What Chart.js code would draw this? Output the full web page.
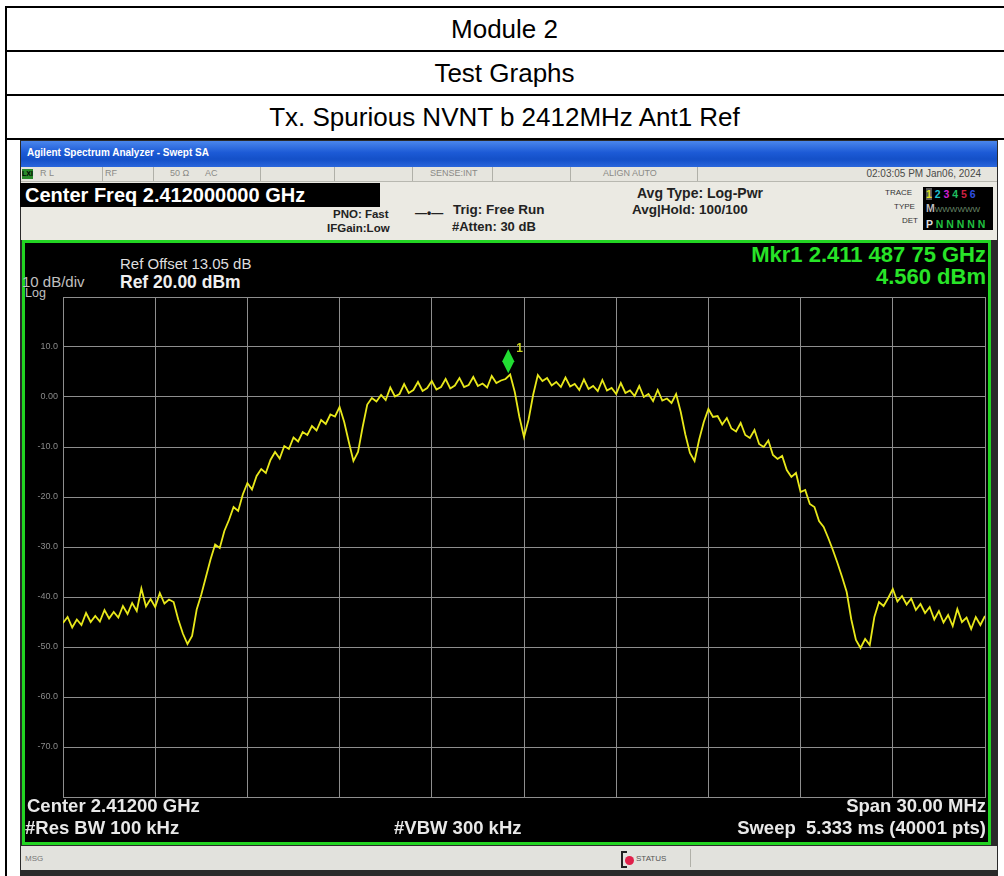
<!DOCTYPE html>
<html>
<head>
<meta charset="utf-8">
<script src="https://cdn.jsdelivr.net/npm/chart.js@4.4.1/dist/chart.umd.min.js"></script>
<style>
  html, body { margin: 0; padding: 0; background: #fff; }
  body { width: 1004px; height: 876px; position: relative; overflow: hidden; font-family: "Liberation Sans", Arial, sans-serif; }
  .abs { position: absolute; white-space: nowrap; }
  .row { position: absolute; left: 5px; width: 999px; height: 44px; border-top: 2px solid #000; box-sizing: border-box;
         font-size: 26px; color: #000; text-align: center; line-height: 42px; }
  #shot { position: absolute; left: 20px; top: 140px; width: 978px; height: 740px; background: #2a2a2a; }
  #titlebar { position: absolute; left: 21px; top: 141px; width: 976px; height: 26px;
              background: linear-gradient(#4a86ec, #1c5ad6 45%, #1450c8 70%, #2a66dc); }
  #titlebar span { position: absolute; left: 6px; top: 6px; color: #fff; font-size: 10px; font-weight: bold; }
  #status { position: absolute; left: 21px; top: 167px; width: 976px; height: 14px; background: #e6e5de;
            border-bottom: 1px solid #b8b8b0; font-size: 9px; color: #8a8a86; }
  .sep { position: absolute; top: 0; width: 1px; height: 14px; background: #b0b0a8; }
  #panel { position: absolute; left: 21px; top: 182px; width: 976px; height: 58px; background: #ebeae3; }
  .pt { position: absolute; white-space: nowrap; font-weight: bold; color: #222; }
  #screen { position: absolute; left: 22px; top: 240px; width: 963px; height: 599px; background: #000;
            border: 3px solid #22d422; }
  .st { position: absolute; white-space: nowrap; color: #e8e8e8; font-weight: bold; font-size: 18.5px; }
  #chartBox { position: absolute; left: 25px; top: 243px; width: 963px; height: 599px; }
  #msg { position: absolute; left: 21px; top: 846px; width: 976px; height: 24px; background: #e2e2dd; font-size: 8px; color: #777; }
</style>
</head>
<body>
<div class="row" style="top:6px;">Module 2</div>
<div class="row" style="top:50px;">Test Graphs</div>
<div class="row" style="top:94px;">Tx. Spurious NVNT b 2412MHz Ant1 Ref</div>
<div class="row" style="top:138px; height:2px;"></div>
<div class="abs" style="left:5px; top:6px; width:2px; height:870px; background:#000;"></div>

<div id="shot"></div>
<div id="titlebar"><span>Agilent Spectrum Analyzer - Swept SA</span></div>
<div id="status">
  <div class="abs" style="left:1px; top:2px; width:11px; height:10px; background:#2a8a2a; color:#000; font-size:7px; font-weight:bold; line-height:10px;">LXI</div>
  <div class="abs" style="left:19px; top:1px;">R L</div>
  <div class="sep" style="left:81px;"></div>
  <div class="abs" style="left:84px; top:1px;">RF</div>
  <div class="sep" style="left:132px;"></div>
  <div class="abs" style="left:149px; top:1px;">50 Ω</div>
  <div class="abs" style="left:184px; top:1px;">AC</div>
  <div class="sep" style="left:239px;"></div>
  <div class="sep" style="left:313px;"></div>
  <div class="sep" style="left:391px;"></div>
  <div class="abs" style="left:409px; top:1px;">SENSE:INT</div>
  <div class="sep" style="left:471px;"></div>
  <div class="sep" style="left:549px;"></div>
  <div class="abs" style="left:582px; top:1px;">ALIGN AUTO</div>
  <div class="sep" style="left:676px;"></div>
  <div class="abs" style="right:16px; top:1px; color:#4a4a48; font-size:10px;">02:03:05 PM Jan06, 2024</div>
</div>
<div id="panel">
  <div class="abs" style="left:-1px; top:1px; width:360px; height:24px; background:#000; color:#fff; font-size:20px; font-weight:bold; line-height:24px; padding-left:5px; box-sizing:border-box;">Center Freq 2.412000000 GHz</div>
  <div class="pt" style="left:312px; top:26px; font-size:11.5px;">PNO: Fast</div>
  <div class="pt" style="left:394px; top:24px; font-size:12px;">&#x2014;&#x2022;&#x2014;</div>
  <div class="pt" style="left:306px; top:40px; font-size:11.5px;">IFGain:Low</div>
  <div class="pt" style="left:432px; top:20px; font-size:13.5px;">Trig: Free Run</div>
  <div class="pt" style="left:431px; top:37px; font-size:13px;">#Atten: 30 dB</div>
  <div class="pt" style="left:616px; top:3px; font-size:14px;">Avg Type: Log-Pwr</div>
  <div class="pt" style="left:611px; top:20px; font-size:13.5px;">Avg|Hold: 100/100</div>
  <div class="abs" style="left:864px; top:6px; font-size:8px; color:#333;">TRACE</div>
  <div class="abs" style="left:873px; top:20px; font-size:8px; color:#333;">TYPE</div>
  <div class="abs" style="left:881px; top:34px; font-size:8px; color:#333;">DET</div>
  <div class="abs" style="left:902px; top:5px; width:70px; height:43px; background:#000; font-size:10.5px; font-weight:bold; line-height:14px; overflow:hidden;">
    <div style="padding-left:3px;"><span style="color:#e0e020; background:#555;">1</span>&nbsp;<span style="color:#20c0d0;">2</span>&nbsp;<span style="color:#d020d0;">3</span>&nbsp;<span style="color:#20c060;">4</span>&nbsp;<span style="color:#d02040;">5</span>&nbsp;<span style="color:#3050e0;">6</span></div>
    <div style="padding-left:3px; color:#bbb;">M<span style="color:#6a8a6a; font-size:8px; font-weight:normal;">WWWWWW</span></div>
    <div style="padding-left:3px; color:#ddd;">P <span style="color:#20c040;">N N N N N</span></div>
  </div>
</div>

<div id="screen"></div>
<div class="abs" style="left:120px; top:255px; font-size:15px; color:#dedede;">Ref Offset 13.05 dB</div>
<div class="abs" style="left:120px; top:272px; font-size:17.5px; font-weight:bold; color:#f0f0f0;">Ref 20.00 dBm</div>
<div class="abs" style="left:22px; top:273px; font-size:15px; color:#c0c0c0;">10 dB/div</div>
<div class="abs" style="left:25px; top:286px; font-size:12.5px; color:#c0c0c0;">Log</div>
<div class="abs" style="right:18px; top:242px; font-size:22px; font-weight:bold; color:#28e428;">Mkr1 2.411 487 75 GHz</div>
<div class="abs" style="right:18px; top:264px; font-size:22px; font-weight:bold; color:#28e428;">4.560 dBm</div>

<div id="chartBox"><canvas id="saChart"></canvas></div>

<div class="st" style="left:27px; top:795px;">Center 2.41200 GHz</div>
<div class="st" style="left:25px; top:817px;">#Res BW 100 kHz</div>
<div class="st" style="left:394px; top:817px;">#VBW 300 kHz</div>
<div class="st" style="right:18px; top:795px;">Span 30.00 MHz</div>
<div class="st" style="right:18px; top:817px;">Sweep&nbsp; 5.333 ms (40001 pts)</div>

<div id="msg">
  <div class="abs" style="left:4px; top:8px;">MSG</div>
  <div class="abs" style="left:600px; top:5px; width:4px; height:13px; border:2px solid #222; border-right:none;"></div>
  <div class="abs" style="left:604px; top:10px; width:9px; height:9px; border-radius:50%; background:#e0204a;"></div>
  <div class="abs" style="left:615px; top:8px; color:#555;">STATUS</div>
  <div class="sep" style="left:669px; top:3px; height:18px;"></div>
</div>

<script>
// sweep: offset from center frequency in MHz
const sweepStartMHz = -15;
const sweepStepMHz = 0.15;

// trace 1 levels in dBm
const traceLevels = [
  -45.2, -44.0, -46.1, -44.5, -45.6, -43.2, -45.0, -43.8, -44.9, -42.6,
  -44.3, -43.0, -44.1, -41.8, -43.4, -41.2, -42.8, -38.3, -41.9, -40.4,
  -42.0, -39.2, -41.3, -40.5, -41.0, -44.5, -47.3, -49.4, -47.8, -42.5,
  -39.5, -36.0, -32.5, -29.5, -30.2, -26.8, -24.6, -22.0, -22.8, -19.5,
  -17.2, -18.5, -15.8, -14.4, -15.2, -12.6, -11.0, -12.3, -9.8, -10.4,
  -8.1, -8.9, -7.0, -7.6, -5.8, -6.7, -4.6, -5.4, -3.5, -3.9,
  -2.0, -5.0, -9.0, -12.8, -11.0, -6.0, -1.5, -0.2, -0.9, 0.4,
  -0.6, 1.9, 0.1, 0.6, 2.6, 0.8, 1.4, 3.0, 1.2, 1.8,
  3.2, 1.5, 2.0, 3.6, 1.7, 2.3, 3.8, 2.0, 2.4, 4.0,
  2.2, 2.7, 1.9, 4.2, 2.8, 3.3, 3.6, 4.5, 1.0, -4.0,
  -8.0, -4.5, 0.5, 4.4, 3.2, 3.8, 2.3, 3.0, 2.0, 3.9,
  2.1, 2.6, 1.4, 3.5, 1.6, 2.2, 1.2, 3.4, 1.3, 1.8,
  0.6, 2.8, 0.8, 1.3, 0.2, 2.2, 0.0, 0.6, -0.8, 1.4,
  -0.7, -0.3, -1.2, 0.6, -3.0, -7.5, -11.2, -12.8, -8.5, -5.0,
  -2.4, -4.0, -3.8, -5.5, -4.2, -6.3, -6.9, -5.2, -7.6, -8.2,
  -6.6, -9.4, -10.0, -8.7, -11.6, -12.4, -11.8, -14.6, -16.0, -15.2,
  -19.0, -18.6, -21.4, -22.0, -24.8, -26.0, -28.2, -30.6, -33.2, -36.0,
  -39.0, -44.5, -48.6, -50.2, -48.4, -49.6, -44.0, -41.0, -41.8, -40.2,
  -38.4, -40.9, -39.8, -41.5, -40.3, -42.6, -41.4, -43.2, -42.0, -44.5,
  -42.8, -45.1, -43.6, -45.8, -42.4, -45.0, -44.1, -46.4, -44.0, -45.6,
  -43.8
];

// marker 1: 2.41148775 GHz -> offset in MHz
const markerFreq = -0.51225;
const markerLevel = 4.56;

// graticule labels
const yTickValues = [20, 10, 0, -10, -20, -30, -40, -50, -60, -70, -80];
const yTickLabels = ['', '10.0', '0.00', '-10.0', '-20.0', '-30.0', '-40.0', '-50.0', '-60.0', '-70.0', ''];

const tracePoints = traceLevels.map((v, i) => ({ x: sweepStartMHz + i * sweepStepMHz, y: v }));

// draws the green diamond for marker 1 above its point
const markerPlugin = {
    id: 'markerPlugin',
    afterDatasetsDraw(chart) {
        const ctx = chart.ctx;
        const px = chart.scales.x.getPixelForValue(markerFreq);
        const py = chart.scales.y.getPixelForValue(markerLevel);
        ctx.save();
        ctx.fillStyle = '#22dd33';
        ctx.beginPath();
        ctx.moveTo(px, py - 25);
        ctx.lineTo(px + 6, py - 13);
        ctx.lineTo(px, py - 1);
        ctx.lineTo(px - 6, py - 13);
        ctx.closePath();
        ctx.fill();
        ctx.fillStyle = '#c8d020';
        ctx.font = 'bold 12px "Liberation Sans", Arial';
        ctx.fillText('1', px + 8, py - 22);
        ctx.restore();
    }
};

document.addEventListener('DOMContentLoaded', function() {
    const ctx = document.getElementById('saChart').getContext('2d');
    const saChart = new Chart(ctx, {
        type: 'line',
        data: {
            datasets: [{
                label: 'Trace 1',
                data: tracePoints,
                borderColor: '#e8e81a',
                borderWidth: 1.8,
                pointRadius: 0,
                tension: 0
            }]
        },
        options: {
            responsive: true,
            maintainAspectRatio: false,
            animation: false,
            layout: { padding: { top: 54, bottom: 45, right: 3, left: 0 } },
            plugins: { legend: { display: false }, tooltip: { enabled: false } },
            scales: {
                x: {
                    type: 'linear',
                    min: -15,
                    max: 15,
                    ticks: { stepSize: 3, display: false },
                    grid: { color: '#8e8e8e', drawTicks: false },
                    border: { color: '#8e8e8e' },
                    afterFit(scale) { scale.height = 0; }
                },
                y: {
                    min: -80,
                    max: 20,
                    ticks: {
                        stepSize: 10,
                        color: '#8a8a8a',
                        padding: 5,
                        font: { size: 9, family: '"Liberation Sans", Arial' },
                        callback: v => yTickLabels[yTickValues.indexOf(v)] || ''
                    },
                    grid: { color: '#8e8e8e', drawTicks: false },
                    border: { color: '#8e8e8e' },
                    afterFit(scale) { scale.width = 38; }
                }
            }
        },
        plugins: [markerPlugin]
    });
});
</script>
</body>
</html>
